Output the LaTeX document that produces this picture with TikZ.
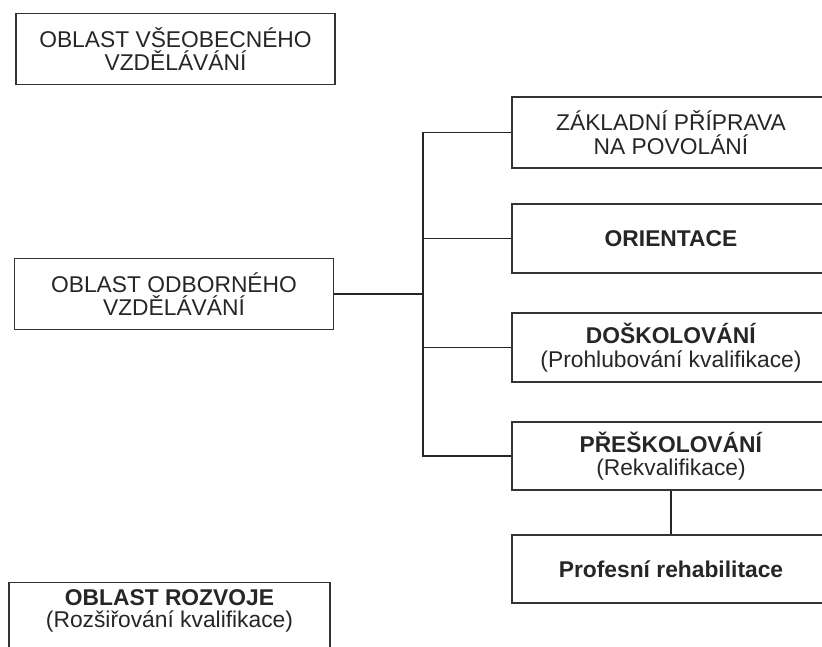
\documentclass[tikz,border=0pt]{standalone}
\usepackage{fontspec}
\setmainfont{Liberation Sans}
\begin{document}
\begin{tikzpicture}[x=1pt,y=-1pt,
  every node/.style={font=\fontsize{22.8}{23.5}\selectfont, text=black!85, align=center},
  box/.style={draw=black!80, line width=1.4pt, inner sep=0pt, minimum height=71pt},
  leftbox/.style={box, minimum width=319pt},
  rightbox/.style={box, minimum width=318pt},
  link/.style={draw=black!85, line width=1.3pt}]
\useasboundingbox (0,0) rectangle (822,646);
\clip (0,0) rectangle (822,646);

% left column
\node[leftbox] (vseob) at (175.5,49) {OBLAST VŠEOBECNÉHO\\VZDĚLÁVÁNÍ};
\node[leftbox] (odbor) at (174,294) {OBLAST ODBORNÉHO\\VZDĚLÁVÁNÍ};
\node[box, minimum width=321pt, minimum height=110pt, anchor=north] (rozvojbox) at (169.5,582) {};
\node[inner sep=0pt] (rozvoj) at (169.5,611) {\textbf{OBLAST ROZVOJE}\\[-1pt](Rozšiřování kvalifikace)};

% right column
\node[rightbox] (zakl) at (671,132.5) {ZÁKLADNÍ PŘÍPRAVA\\NA POVOLÁNÍ};
\node[rightbox, minimum height=69pt] (orient) at (671,238.5) {\textbf{ORIENTACE}};
\node[rightbox, minimum height=69pt] (dosk) at (671,347.5) {\textbf{DOŠKOLOVÁNÍ}\\(Prohlubování kvalifikace)};
\node[rightbox, minimum height=68pt] (presk) at (671,456) {\textbf{PŘEŠKOLOVÁNÍ}\\(Rekvalifikace)};
\node[rightbox, minimum height=68pt] (prof) at (671,569) {\textbf{Profesní rehabilitace}};

% connectors
\coordinate (trunk) at (423,294);
\draw[link] (odbor.east) -- (trunk);
\draw[link] (zakl.west) -| (trunk);
\draw[link] (orient.west) -| (trunk);
\draw[link] (dosk.west) -| (trunk);
\draw[link] (presk.west) -| (trunk);
\draw[link] (presk.south) -- (prof.north);
\end{tikzpicture}
\end{document}
